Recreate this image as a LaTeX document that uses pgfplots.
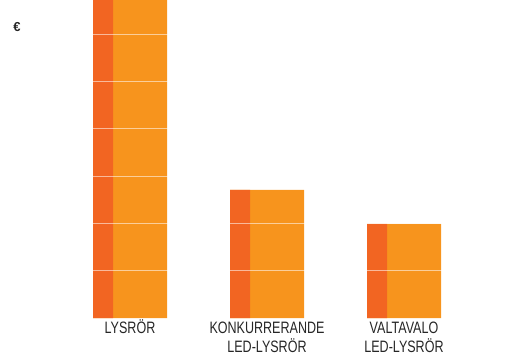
\documentclass[border=0pt]{standalone}
\usepackage{pgfplots}
\pgfplotsset{compat=1.18}
\usepackage{fontspec}
\setmainfont{Liberation Sans}
\newfontfamily\cond[FakeStretch=0.76]{Liberation Sans}
\definecolor{darkor}{HTML}{F26522}
\definecolor{lightor}{HTML}{F7941D}
\begin{document}
\begin{tikzpicture}
\path[use as bounding box] (0pt,-36pt) rectangle (518pt,318pt);
\begin{axis}[
  scale only axis, width=518pt, height=318pt,
  xmin=-0.9489, xmax=2.8321, ymin=0, ymax=6.72,
  axis line style={draw=none},
  major tick length=0pt,
  xtick={0,1,2},
  xticklabels={{\vphantom{Ö}LYSRÖR},{\vphantom{Ö}KONKURRERANDE\\LED-LYSRÖR},{\vphantom{Ö}VALTAVALO\\LED-LYSRÖR}},
  xticklabel style={font=\cond\fontsize{16.5}{18.5}\selectfont, align=center, text=black!85, anchor=north, inner sep=0pt, yshift=-1.5pt},
  ytick={1,2,3,4,5,6}, yticklabel=\empty,
  yticklabel style={inner sep=0pt, font=\tiny},
  ymajorgrids, grid style={white, line width=0.8pt, opacity=0.55},
  axis on top,
  clip=true,
]
\addplot[ybar, bar width=74pt, fill=lightor, draw=none] coordinates {(0,6.72) (1,2.71) (2,1.99)};
\addplot[ybar, bar width=20pt, bar shift=-27pt, fill=darkor, draw=none] coordinates {(0,6.72) (1,2.71) (2,1.99)};
\end{axis}
\node[font=\bfseries\fontsize{13}{15}\selectfont, text=black!85] at (17pt,291pt) {€};
\end{tikzpicture}
\end{document}
